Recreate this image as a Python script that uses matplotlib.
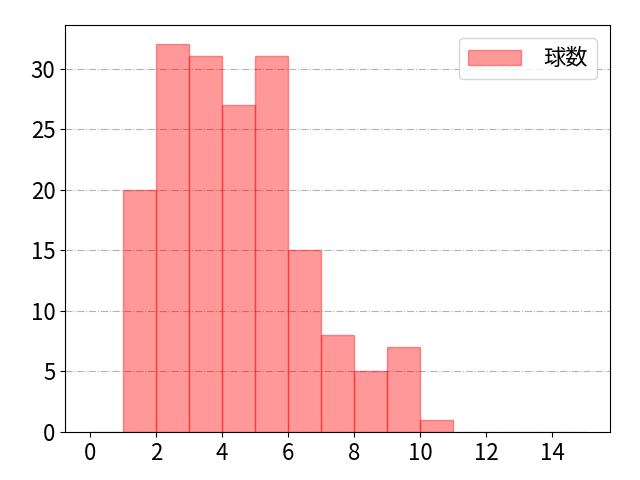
import matplotlib
matplotlib.use("Agg")
import matplotlib.pyplot as plt
import numpy as np

plt.rcParams['font.family'] = ['Noto Sans CJK JP', 'DejaVu Sans']

bin_edges = list(range(0, 16))
counts = [0, 20, 32, 31, 27, 31, 15, 8, 5, 7, 1, 0, 0, 0, 0]
label = "球数"

fig, ax = plt.subplots(figsize=(6.4, 4.8), dpi=100)
fig.subplots_adjust(left=0.102, right=0.953, top=0.948, bottom=0.1)
ax.hist(bin_edges[:-1], bins=bin_edges, weights=counts, color='red', alpha=0.4,
        edgecolor='red', linewidth=1, label=label)
ax.set_xticks([0, 2, 4, 6, 8, 10, 12, 14])
ax.tick_params(labelsize=16)
ax.grid(axis='y', linestyle='-.', color='gray', alpha=0.6)
ax.set_axisbelow(True)
ax.legend(fontsize=16, loc='upper right', handlelength=2.4, handletextpad=1.0,
          borderaxespad=0.6)
fig.savefig("out.png")
